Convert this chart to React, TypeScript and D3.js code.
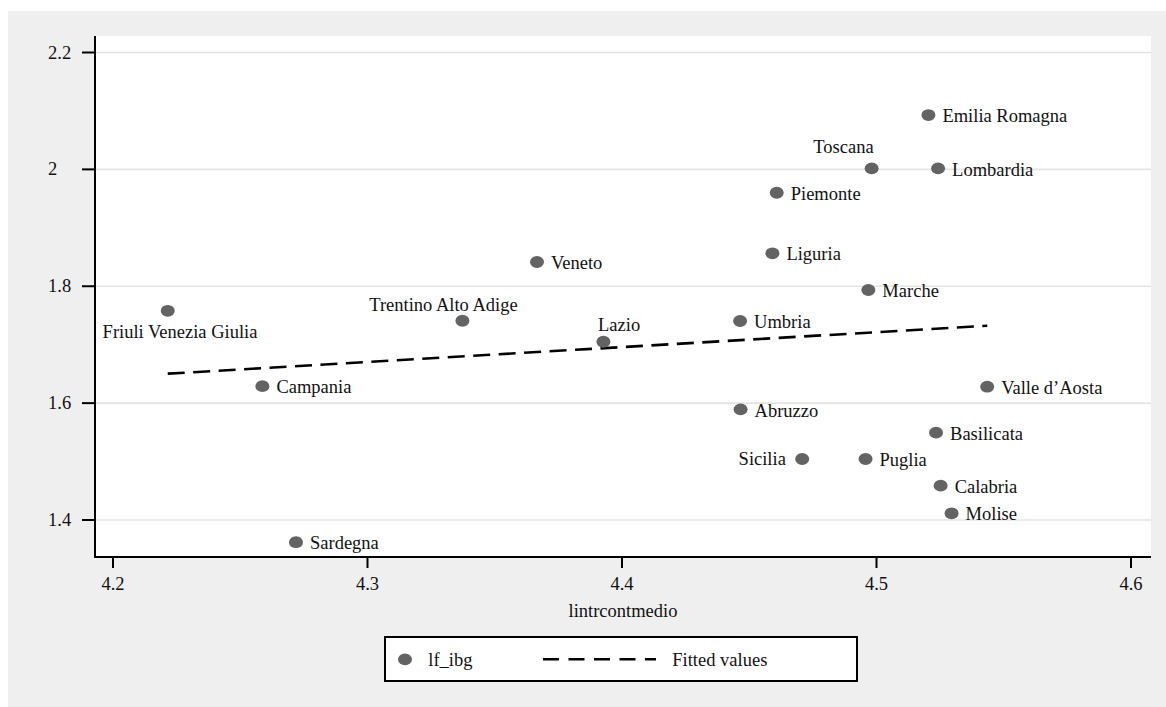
import React from "react";
import * as d3 from "d3";

const regions = [
  "Friuli Venezia Giulia", "Campania", "Sardegna", "Trentino Alto Adige", "Lazio",
  "Veneto", "Umbria", "Liguria", "Piemonte", "Toscana", "Lombardia", "Emilia Romagna",
  "Marche", "Valle d\u2019Aosta", "Abruzzo", "Basilicata", "Sicilia", "Puglia", "Calabria", "Molise",
];
const lintrcontmedio = [
  4.2215, 4.2587, 4.2719, 4.3373, 4.3927,
  4.3666, 4.4464, 4.4591, 4.4608, 4.4981, 4.5242, 4.5204,
  4.4968, 4.5435, 4.4466, 4.5234, 4.4708, 4.4957, 4.5252, 4.5295,
];
const lf_ibg = [
  1.758, 1.629, 1.362, 1.741, 1.705,
  1.8415, 1.7405, 1.8564, 1.960, 2.0018, 2.0018, 2.093,
  1.7936, 1.6281, 1.5894, 1.5494, 1.5044, 1.5044, 1.4587, 1.4115,
];
// label placement (clock position) per region
const labelClock = [6, 3, 3, 12, 1, 3, 3, 3, 3, 11, 3, 3, 3, 3, 3, 3, 9, 3, 3, 3];

const fitX = [4.2215, 4.5435];
const fitY = [1.6504, 1.7325];

const xTicks = [4.2, 4.3, 4.4, 4.5, 4.6];
const yTicks = [1.4, 1.6, 1.8, 2, 2.2];
const xTitle = "lintrcontmedio";
const legendLabels = ["lf_ibg", "Fitted values"];

const FONT = "'Liberation Serif', 'Times New Roman', Times, serif";
const FS = 18.5;

function labelOffset(clock: number) {
  switch (clock) {
    case 6: return { dx: 12.3, dy: 27.6, anchor: "middle" };
    case 12: return { dx: -19, dy: -10, anchor: "middle" };
    case 1: return { dx: 15.7, dy: -11, anchor: "middle" };
    case 11: return { dx: 2, dy: -15, anchor: "end" };
    case 9: return { dx: -16.3, dy: 6.5, anchor: "end" };
    default: return { dx: 14, dy: 7.2, anchor: "start" };
  }
}

export default function App() {
  const left = 95, right = 1151, top = 36, bottom = 557;
  const x = d3.scaleLinear().domain([4.2, 4.6]).range([113, 1131]);
  const y = d3.scaleLinear().domain([1.4, 2.2]).range([520, 52.5]);
  const line = d3.line<number>().x((_, i) => x(fitX[i])).y((d) => y(d));

  return (
    <svg width={1166} height={707} style={{ position: "absolute", left: 0, top: 0, display: "block" }}
      fontFamily={FONT}>
      <rect x={8} y={11} width={1158} height={696} fill="#efefef" />
      <rect x={left} y={top} width={right - left} height={bottom - top} fill="#ffffff" />
      {yTicks.map((t) => (
        <line key={"g" + t} x1={left} x2={right} y1={y(t)} y2={y(t)} stroke="#e4e4e4" strokeWidth={1.6} />
      ))}
      <path d={line(fitY) || ""} fill="none" stroke="#000" strokeWidth={2.6} strokeDasharray="17 8.5" />
      {regions.map((r, i) => (
        <ellipse key={"p" + r} cx={x(lintrcontmedio[i])} cy={y(lf_ibg[i])} rx={7} ry={5.9} fill="#636363" />
      ))}
      {regions.map((r, i) => {
        const o = labelOffset(labelClock[i]);
        return (
          <text key={"l" + r} x={x(lintrcontmedio[i]) + o.dx} y={y(lf_ibg[i]) + o.dy}
            textAnchor={o.anchor as any} fontSize={FS} fill="#111">{r}</text>
        );
      })}
      <line x1={left} x2={left} y1={top} y2={bottom + 1} stroke="#000" strokeWidth={2} />
      <line x1={left - 1} x2={right} y1={bottom} y2={bottom} stroke="#000" strokeWidth={2} />
      {yTicks.map((t) => (
        <g key={"yt" + t}>
          <line x1={left - 13} x2={left} y1={y(t)} y2={y(t)} stroke="#000" strokeWidth={2} />
          <text x={48} y={y(t) + 6} fontSize={FS} fill="#111">{t === 2 ? "2" : d3.format(".1f")(t)}</text>
        </g>
      ))}
      {xTicks.map((t) => (
        <g key={"xt" + t}>
          <line x1={x(t)} x2={x(t)} y1={bottom} y2={bottom + 11} stroke="#000" strokeWidth={2} />
          <text x={x(t)} y={589.5} fontSize={FS} textAnchor="middle" fill="#111">{d3.format(".1f")(t)}</text>
        </g>
      ))}
      <text x={(left + right) / 2} y={617} fontSize={FS} textAnchor="middle" fill="#111">{xTitle}</text>
      <rect x={385} y={637} width={472} height={44} fill="#fff" stroke="#000" strokeWidth={2} />
      <ellipse cx={405} cy={659.3} rx={7} ry={5.9} fill="#636363" />
      <text x={428.3} y={665.5} fontSize={FS} fill="#111">{legendLabels[0]}</text>
      <line x1={543} x2={656} y1={659.3} y2={659.3} stroke="#000" strokeWidth={2.6} strokeDasharray="16 9.5" />
      <text x={672.3} y={665.5} fontSize={FS} fill="#111">{legendLabels[1]}</text>
    </svg>
  );
}
